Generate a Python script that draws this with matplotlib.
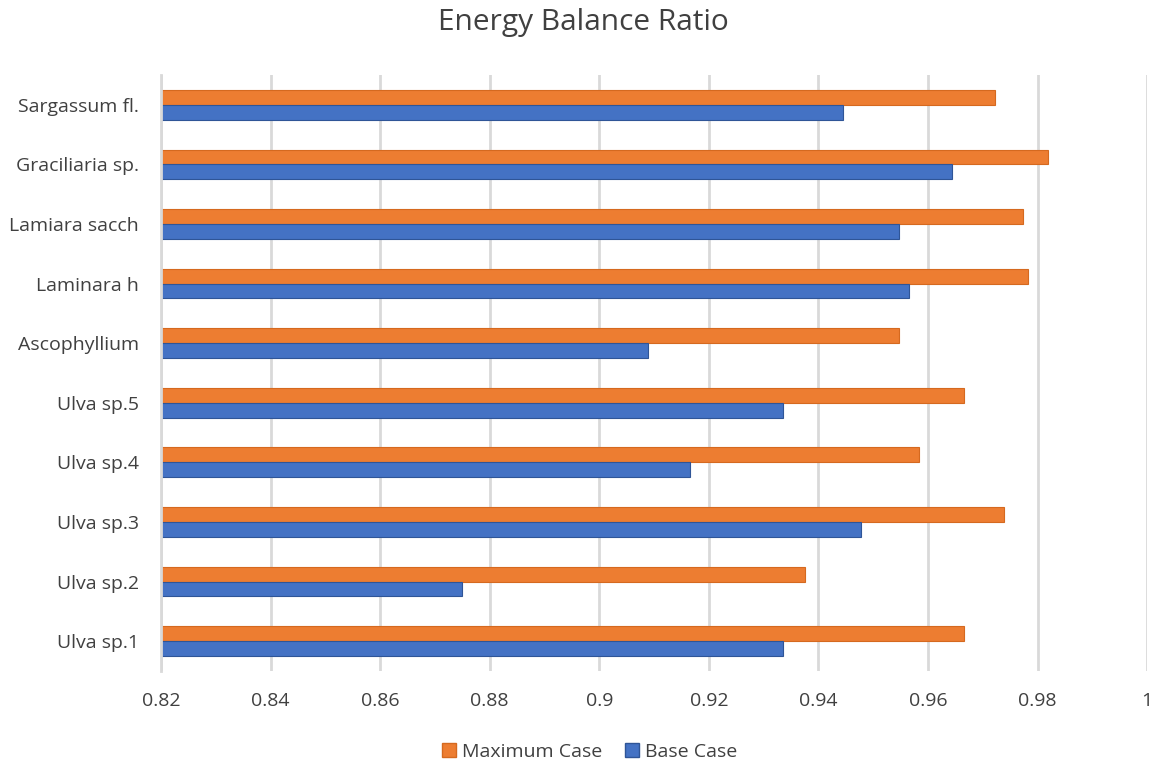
import numpy as np
from matplotlib import pyplot as plt
from matplotlib.patches import Patch

plt.rcParams['font.family'] = ['Open Sans', 'DejaVu Sans']

# species from bottom to top of the chart
species = ['Ulva sp.1', 'Ulva sp.2', 'Ulva sp.3', 'Ulva sp.4', 'Ulva sp.5',
           'Ascophyllium', 'Laminara h', 'Lamiara sacch', 'Graciliaria sp.',
           'Sargassum fl.']
base_case = [0.9335, 0.8749, 0.9478, 0.9166, 0.9335,
             0.9089, 0.9565, 0.9547, 0.9644, 0.9445]
max_case = [0.9666, 0.9375, 0.9738, 0.9584, 0.9666,
            0.9547, 0.9782, 0.9773, 0.9820, 0.9722]
xticks = [0.82, 0.84, 0.86, 0.88, 0.9, 0.92, 0.94, 0.96, 0.98, 1.0]
xticklabels = ['0.82', '0.84', '0.86', '0.88', '0.9', '0.92', '0.94',
               '0.96', '0.98', '1']

ORANGE = '#ED7D31'
BLUE = '#4472C4'
GRID = '#D9D9D9'
TEXT = '#404040'

fig = plt.figure(figsize=(11.56, 7.63), dpi=100)
ax = fig.add_axes([0.1393, 0.1206, 0.853, 0.7811])

y = np.arange(len(species))
h = 0.25  # two bars per category, gap width 200%
xmin = xticks[0]
ax.barh(y + h / 2, np.array(max_case) - xmin, left=xmin, height=h,
        color=ORANGE, edgecolor='#D5691F', linewidth=0.8, zorder=3)
ax.barh(y - h / 2, np.array(base_case) - xmin, left=xmin, height=h,
        color=BLUE, edgecolor='#2F5597', linewidth=0.8, zorder=3)

ax.set_xlim(0.82, 1.0)
ax.set_ylim(-0.5, len(species) - 0.5)
ax.set_xticks(xticks)
ax.set_xticklabels(xticklabels)
ax.set_yticks(y)
ax.set_yticklabels(species)
ax.tick_params(axis='x', length=0, pad=15, labelsize=14, labelcolor=TEXT)
ax.tick_params(axis='y', length=0, pad=16, labelsize=14, labelcolor=TEXT)

ax.grid(axis='x', color=GRID, linewidth=2, zorder=0)
for s in ['top', 'right', 'bottom']:
    ax.spines[s].set_visible(False)
ax.spines['left'].set_color(GRID)
ax.spines['left'].set_linewidth(2)
ax.spines['left'].set_zorder(4)

fig.text(0.505, 0.971, 'Energy Balance Ratio', ha='center', va='center',
         fontsize=21.5, color=TEXT)

handles = [Patch(facecolor=ORANGE, edgecolor='#D5691F', label='Maximum Case'),
           Patch(facecolor=BLUE, edgecolor='#2F5597', label='Base Case')]
fig.legend(handles=handles, loc='center', bbox_to_anchor=(0.51, 0.015),
           ncol=2, frameon=False, fontsize=14, handlelength=0.7,
           handleheight=0.7, handletextpad=0.3, columnspacing=1.2,
           labelcolor=TEXT)

fig.savefig('out.png', dpi=100)
